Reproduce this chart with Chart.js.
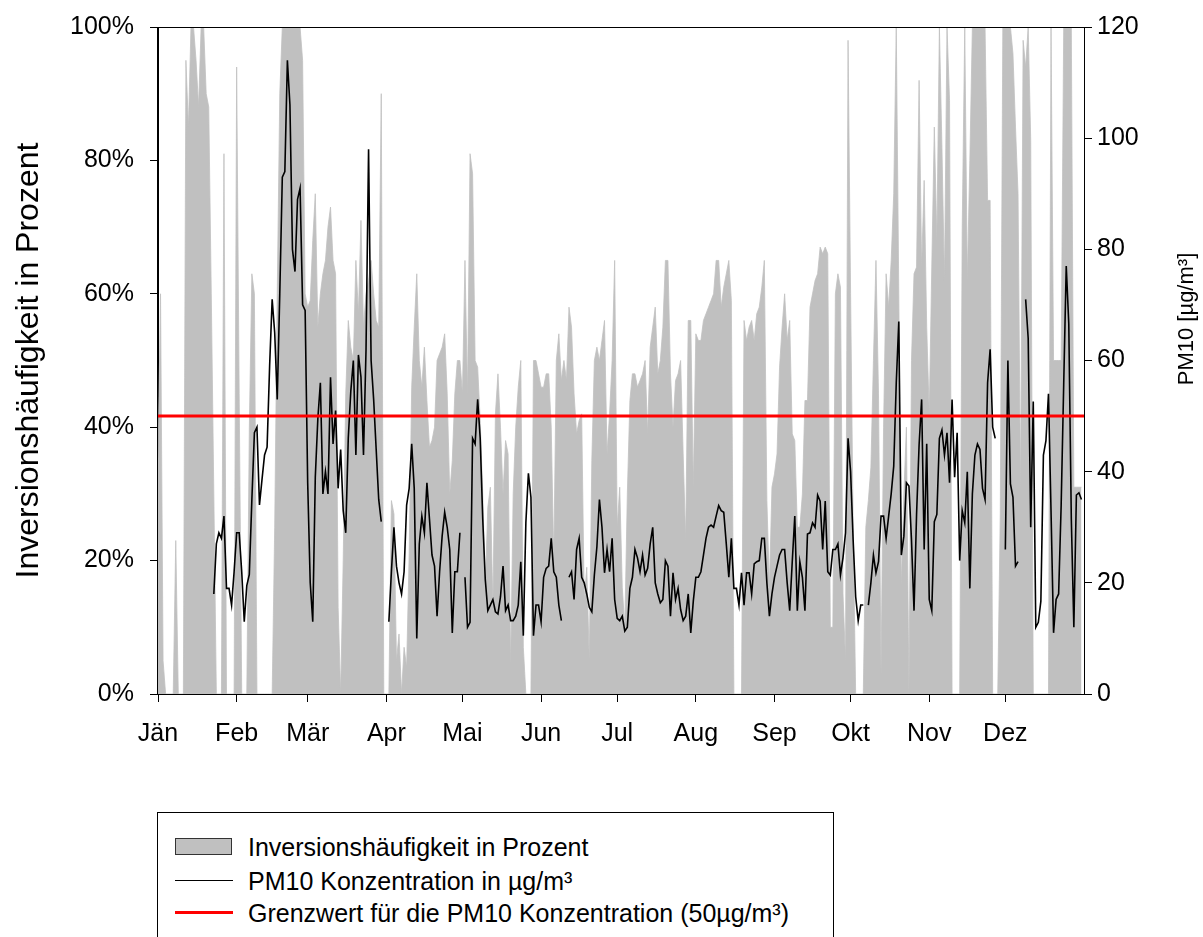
<!DOCTYPE html>
<html>
<head>
<meta charset="utf-8">
<title>Inversionshäufigkeit und PM10</title>
<script src="https://cdn.jsdelivr.net/npm/chart.js@4.4.1/dist/chart.umd.min.js"></script>
<style>
  html, body { margin: 0; padding: 0; background: #fff; overflow: hidden; }
  #wrap { position: relative; width: 1203px; height: 937px; overflow: hidden; }
  #chart { position: absolute; left: 0; top: 0; }
  .legend {
    position: absolute; left: 157px; top: 812px; width: 677px; height: 160px;
    border: 1px solid #000; box-sizing: border-box; background: #fff;
    font-family: "Liberation Sans", Arial, sans-serif; font-size: 25px; color: #000;
  }
  .legend .row { position: absolute; left: 0; height: 30px; width: 100%; }
  .legend .txt { position: absolute; left: 90px; top: 0; line-height: 30px; white-space: nowrap; }
  .legend .box { position: absolute; left: 17px; top: 6px; width: 57px; height: 17px; background: #c0c0c0; border: 1px solid #333; box-sizing: border-box; }
  .legend .line { position: absolute; left: 17px; width: 58px; }
</style>
</head>
<body>
<div id="wrap">
  <canvas id="chart" width="1203" height="937"></canvas>
  <div class="legend">
    <div class="row" style="top:19px"><div class="box"></div><div class="txt">Inversionshäufigkeit in Prozent</div></div>
    <div class="row" style="top:53px"><div class="line" style="top:14px;height:1px;background:#000"></div><div class="txt">PM10 Konzentration in µg/m³</div></div>
    <div class="row" style="top:85px"><div class="line" style="top:13px;height:3px;background:#ff0000"></div><div class="txt">Grenzwert für die PM10 Konzentration (50µg/m³)</div></div>
  </div>
</div>
<script>
// Month axis
const monthNames = ['Jän', 'Feb', 'Mär', 'Apr', 'Mai', 'Jun', 'Jul', 'Aug', 'Sep', 'Okt', 'Nov', 'Dez'];
const monthLengths = [31, 28, 31, 30, 31, 30, 31, 31, 30, 31, 30, 31];

// Daily inversion frequency (%) per month
const inversionJan = [35, 60, 5, 0, 0, 0, 0, 23, 0, 0, 0, 95, 85, 100, 100, 95, 88, 100, 100, 90, 88, 60, 30, 0, 0, 0, 81, 0, 0, 0, 0];
const inversionFeb = [94, 45, 0, 0, 0, 40, 63, 60, 0, 0, 0, 0, 0, 0, 0, 25, 60, 90, 100, 100, 100, 100, 100, 100, 100, 100, 95, 60];
const inversionMar = [58, 59, 68, 75, 55, 60, 63, 65, 70, 73, 65, 63, 13, 0, 20, 45, 56, 52, 50, 65, 57, 71, 55, 60, 62, 65, 60, 56, 55, 90, 0];
const inversionApr = [0, 0, 29, 27, 5, 9, 0, 7, 4, 21, 46, 55, 63, 50, 46, 52, 44, 37, 38, 40, 50, 51, 52, 54, 45, 30, 35, 45, 50, 50];
const inversionMai = [45, 65, 45, 81, 78, 50, 49, 41, 30, 16, 28, 31, 13, 42, 48, 40, 30, 38, 36, 4, 30, 40, 46, 50, 7, 0, 0, 0, 50, 50, 48];
const inversionJun = [46, 46, 48, 48, 40, 20, 50, 54, 47, 50, 47, 58, 55, 45, 39, 41, 42, 14, 19, 5, 35, 50, 52, 50, 53, 56, 36, 42, 50, 65];
const inversionJul = [25, 31, 16, 10, 30, 44, 48, 48, 46, 47, 48, 50, 39, 52, 55, 58, 48, 50, 55, 65, 65, 48, 40, 47, 48, 50, 36, 23, 56, 56, 31];
const inversionAug = [54, 53, 53, 56, 57, 58, 59, 60, 65, 65, 58, 61, 63, 65, 59, 0, 0, 0, 0, 56, 53, 55, 56, 53, 57, 58, 61, 65, 29, 16, 31];
const inversionSep = [33, 36, 49, 55, 60, 53, 56, 39, 38, 25, 25, 30, 44, 44, 58, 60, 62, 63, 67, 66, 67, 66, 10, 10, 60, 63, 61, 15, 5, 98];
const inversionOkt = [60, 25, 0, 0, 0, 0, 25, 29, 34, 50, 65, 45, 3, 40, 63, 58, 65, 75, 100, 60, 16, 30, 40, 0, 50, 63, 64, 92, 64, 77, 55];
const inversionNov = [42, 64, 85, 68, 100, 82, 62, 100, 89, 0, 0, 0, 0, 70, 100, 62, 80, 100, 100, 100, 100, 100, 100, 74, 74, 0, 0, 0, 27, 100];
const inversionDez = [100, 100, 100, 96, 85, 75, 30, 98, 94, 100, 83, 0, 0, 0, 0, 0, 0, 0, 100, 50, 50, 50, 50, 100, 100, 100, 100, 31, 31, 31, 31];

// Daily PM10 concentration (µg/m³) per month, null = no measurement
const pm10Jan = [null, null, null, null, null, null, null, null, null, null, null, null, null, null, null, null, null, null, null, null, null, null, 18, 27, 29, 28, 32, 19, 19, 16, 22];
const pm10Feb = [29, 29, 22, 13, 19.5, 21.5, 35, 47, 48, 34, 38.6, 43, 44.4, 59, 71, 65, 53, 72, 93, 94, 114, 106, 80, 76, 89, 91, 70, 69];
const pm10Mar = [38, 20, 13, 39, 49.5, 56, 36, 40, 36, 57, 45, 51, 37, 44, 33, 29, 46, 54.5, 60, 43, 61, 57, 43, 62, 98, 60, 53, 44, 35, 31, null];
const pm10Apr = [null, 13, 22, 30, 23, 20, 18, 22, 34, 37, 45, 37, 10, 27, 32, 29, 38, 31.5, 25, 23, 14, 22, 28.4, 32.7, 30, 26, 11, 22, 22, 29];
const pm10Mai = [null, 21, 12, 12.9, 46, 45, 53, 46, 31.5, 20.6, 15, 16, 17, 14.8, 14.4, 17.5, 23, 15, 16, 13.2, 13.2, 14, 16, 23.8, 10.5, 30.8, 39.7, 35.4, 10.5, 16, 16];
const pm10Jun = [13, 21, 22.6, 23, 28, 22, 21, 16, 13.2, null, null, 21, 22, 17, 26, 28, 21, 20, 18, 15.6, 14.8, 21.4, 26.5, 35, 30, 21.8, 26, 22, 28, 17];
const pm10Jul = [13.6, 13.2, 14, 11.3, 12, 19, 21, 26, 24.5, 22, 25, 21.4, 22.6, 27, 30, 20, 18, 16.4, 17, 24, 23, 14, 21.8, 17, 19, 15.2, 13.2, 14, 18, 11, 16.7];
const pm10Aug = [21, 21, 22, 25, 28, 30, 30.4, 30, 32, 33.9, 33, 32.7, 27, 21, 28, 19, 19, 16, 21.8, 16, 21.8, 21.8, 18, 23.4, 23.8, 24, 28, 28, 20, 14, 18];
const pm10Sep = [21, 23, 25, 26, 26, 20, 15, 23.8, 32, 15, 23.8, 21, 15, 28.8, 29, 30.8, 30, 35.8, 34.7, 26, 34.7, 22, 21.4, 26, 26, 27, 21.4, 24.5, 29, 46];
const pm10Okt = [40, 27.7, 17.5, 13.2, 16, 16, null, 16, 20, 25, 21.8, 23.8, 32, 32, 28, 32, 36, 41, 56, 67, 25, 28.4, 38, 37.4, 27.7, 15, 32.3, 44.8, 53, 26, 45];
const pm10Nov = [17, 15, 31, 32.3, 46, 47.5, 43, 47, 38, 53, 39, 47, 24, 33, 30.8, 40, 19, 36, 43, 45, 44, 37, 35, 56, 62, 48, 46, null, null, null];
const pm10Dez = [26, 60, 37.8, 35.4, 23, 23.8, null, null, 71, 64, 30, 52.6, 12, 12.9, 16.7, 43, 45.6, 54, 33, 11, 17, 18, 34, 55.7, 77, 66.6, 31.5, 12, 35.8, 36.2, 35];

// Limit value and axis ticks
const pm10Limit = 50;
const inversionTicks = [0, 20, 40, 60, 80, 100];
const pm10Ticks = [0, 20, 40, 60, 80, 100, 120];

const leftTitle = 'Inversionshäufigkeit in Prozent';
const rightTitle = 'PM10 [µg/m³]';
const fontFamily = '"Liberation Sans", Arial, Helvetica, sans-serif';

// Build daily series
const inversion = [].concat(inversionJan, inversionFeb, inversionMar, inversionApr, inversionMai, inversionJun,
  inversionJul, inversionAug, inversionSep, inversionOkt, inversionNov, inversionDez);
const pm10 = [].concat(pm10Jan, pm10Feb, pm10Mar, pm10Apr, pm10Mai, pm10Jun,
  pm10Jul, pm10Aug, pm10Sep, pm10Okt, pm10Nov, pm10Dez);
const monthStarts = monthLengths.reduce((acc, len, i) => { acc.push(i === 0 ? 0 : acc[i - 1] + monthLengths[i - 1]); return acc; }, []);
const daysInYear = monthLengths.reduce((a, b) => a + b, 0);

const inversionPoints = inversion.map((v, i) => ({ x: i, y: v }));
const pm10Points = pm10.map((v, i) => ({ x: i, y: v }));
const limitPoints = [{ x: 0, y: pm10Limit }, { x: daysInYear, y: pm10Limit }];

// Black frame around the plot and rotated axis titles
const frameAndTitles = {
  id: 'frameAndTitles',
  afterDatasetsDraw(chart) {
    const { ctx, chartArea: a } = chart;
    const l = Math.round(a.left) - 0.5, r = Math.round(a.right) + 0.5;
    const t = Math.round(a.top) + 0.5, b = Math.round(a.bottom) + 0.5;
    ctx.save();
    ctx.strokeStyle = '#000';
    ctx.lineWidth = 1;
    ctx.beginPath();
    ctx.moveTo(l, t); ctx.lineTo(r, t);
    ctx.moveTo(l, b); ctx.lineTo(r, b);
    ctx.moveTo(l, t - 0.5); ctx.lineTo(l, b + 0.5);
    ctx.moveTo(r, t - 0.5); ctx.lineTo(r, b + 0.5);
    ctx.stroke();
    ctx.restore();
  },
  afterDraw(chart) {
    const { ctx, chartArea: a } = chart;
    ctx.save();
    ctx.fillStyle = '#000';
    ctx.textAlign = 'center';
    ctx.textBaseline = 'alphabetic';
    ctx.font = '32px ' + fontFamily;
    ctx.translate(38, (a.top + a.bottom) / 2);
    ctx.rotate(-Math.PI / 2);
    ctx.fillText(leftTitle, 0, 0);
    ctx.restore();

    ctx.save();
    ctx.fillStyle = '#000';
    ctx.textAlign = 'center';
    ctx.textBaseline = 'alphabetic';
    ctx.font = '22px ' + fontFamily;
    ctx.translate(1193, 319);
    ctx.rotate(-Math.PI / 2);
    ctx.fillText(rightTitle, 0, 0);
    ctx.restore();
  }
};

const tickFont = { family: fontFamily, size: 25 };
const fitVertical = (width) => (s) => { s.width = width; s.paddingTop = 0; s.paddingBottom = 0; };

new Chart(document.getElementById('chart'), {
  type: 'line',
  data: {
    datasets: [
      {
        label: 'Inversionshäufigkeit in Prozent',
        data: inversionPoints,
        yAxisID: 'yInv',
        backgroundColor: '#c0c0c0',
        borderColor: '#c0c0c0',
        borderWidth: 0.8,
        fill: 'origin',
        pointRadius: 0,
        tension: 0,
        order: 3
      },
      {
        label: 'PM10 Konzentration in µg/m³',
        data: pm10Points,
        yAxisID: 'yPm',
        borderColor: '#000',
        borderWidth: 1.6,
        fill: false,
        pointRadius: 0,
        tension: 0,
        spanGaps: false,
        order: 2
      },
      {
        label: 'Grenzwert für die PM10 Konzentration (50µg/m³)',
        data: limitPoints,
        yAxisID: 'yPm',
        borderColor: '#ff0000',
        borderWidth: 3,
        fill: false,
        pointRadius: 0,
        order: 1
      }
    ]
  },
  options: {
    responsive: false,
    animation: false,
    devicePixelRatio: 1,
    layout: { padding: { top: 27, left: 0, right: 0, bottom: 0 } },
    plugins: { legend: { display: false }, tooltip: { enabled: false } },
    scales: {
      x: {
        type: 'linear',
        min: 0,
        max: daysInYear,
        afterBuildTicks: (s) => { s.ticks = monthStarts.map(v => ({ value: v })); },
        afterFit: (s) => { s.height = 243; s.paddingLeft = 0; s.paddingRight = 0; },
        ticks: {
          callback: (v) => monthNames[monthStarts.indexOf(v)],
          autoSkip: false, maxRotation: 0, minRotation: 0,
          font: tickFont, color: '#000', padding: 17
        },
        grid: { drawOnChartArea: false, drawTicks: true, tickLength: 8, color: '#000', lineWidth: 1 },
        border: { display: true, color: '#000', width: 1 }
      },
      yInv: {
        position: 'left',
        min: 0,
        max: 100,
        afterBuildTicks: (s) => { s.ticks = inversionTicks.map(v => ({ value: v })); },
        afterFit: fitVertical(158),
        ticks: { callback: (v) => v + '%', font: tickFont, color: '#000', padding: 16 },
        grid: { drawOnChartArea: false, drawTicks: true, tickLength: 8, color: '#000', lineWidth: 1 },
        border: { display: true, color: '#000', width: 1 }
      },
      yPm: {
        position: 'right',
        min: 0,
        max: 120,
        afterBuildTicks: (s) => { s.ticks = pm10Ticks.map(v => ({ value: v })); },
        afterFit: fitVertical(119),
        ticks: { callback: (v) => String(v), font: tickFont, color: '#000', padding: 5 },
        grid: { drawOnChartArea: false, drawTicks: true, tickLength: 8, color: '#000', lineWidth: 1 },
        border: { display: true, color: '#000', width: 1 }
      }
    }
  },
  plugins: [frameAndTitles]
});
</script>
</body>
</html>
